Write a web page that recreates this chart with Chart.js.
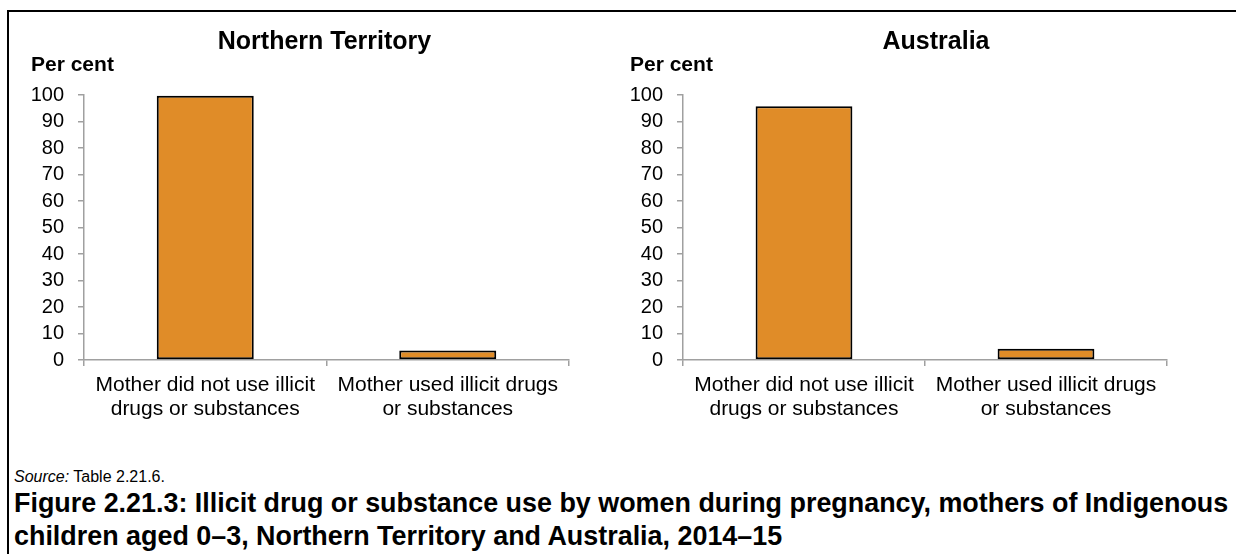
<!DOCTYPE html>
<html>
<head>
<meta charset="utf-8">
<script src="https://cdn.jsdelivr.net/npm/chart.js@4.4.1/dist/chart.umd.min.js"></script>
<style>
    html, body { margin: 0; padding: 0; background: #fff; overflow: hidden; width: 1236px; height: 554px; }
    body { position: relative; font-family: Arial, "Liberation Sans", sans-serif; }
    .frame { position: absolute; left: 7px; top: 10px; width: 1300px; height: 600px; border-top: 2px solid #000; border-left: 2px solid #000; }
    .box { position: absolute; }
    #ntBox { left: 31px; top: 30px; width: 587px; height: 391px; }
    #ausBox { left: 630px; top: 30px; width: 612px; height: 391px; }
    .source { position: absolute; left: 14px; top: 468px; font-size: 16px; line-height: 18px; color: #000; }
    .caption { position: absolute; left: 14px; top: 487px; font-size: 26.9px; line-height: 33px; font-weight: bold; color: #000; white-space: nowrap; }
</style>
</head>
<body>
<div class="frame"></div>
<div class="box" id="ntBox"><canvas id="ntChart"></canvas></div>
<div class="box" id="ausBox"><canvas id="ausChart"></canvas></div>
<div class="source"><i>Source:</i> Table 2.21.6.</div>
<div class="caption">Figure 2.21.3: Illicit drug or substance use by women during pregnancy, mothers of Indigenous<br>children aged 0–3, Northern Territory and Australia, 2014–15</div>

<script>
// Data
const categories = [
    ["Mother did not use illicit", "drugs or substances"],
    ["Mother used illicit drugs", "or substances"]
];
const ntValues = [99.7, 3.6];
const ausValues = [95.8, 4.2];
const yMin = 0;
const yMax = 100;
const yStep = 10;

const FONT = 'Arial, "Liberation Sans", sans-serif';
const AXIS_GREY = "#a0a0a0";
const BAR_ORANGE = "#e08c28";

function makeChart(canvasId, title, values, rightGap) {
    const ctx = document.getElementById(canvasId).getContext("2d");
    return new Chart(ctx, {
        type: "bar",
        data: {
            labels: categories,
            datasets: [{
                label: title,
                data: values,
                backgroundColor: BAR_ORANGE,
                borderColor: "#000",
                borderWidth: 2,
                borderSkipped: false,
                categoryPercentage: 1.0,
                barPercentage: 0.4
            }]
        },
        options: {
            responsive: true,
            maintainAspectRatio: false,
            animation: false,
            layout: { padding: 0, autoPadding: false },
            plugins: {
                legend: { display: false },
                tooltip: { enabled: false },
                title: {
                    display: true,
                    text: title,
                    color: "#000",
                    font: { family: FONT, size: 25, weight: "bold", lineHeight: 1.0 },
                    padding: { top: 0, bottom: 0 }
                },
                subtitle: {
                    display: true,
                    text: "Per cent",
                    align: "start",
                    color: "#000",
                    font: { family: FONT, size: 21, weight: "bold", lineHeight: 1.0 },
                    padding: { top: 0, bottom: 19 }
                }
            },
            scales: {
                x: {
                    offset: true,
                    grid: {
                        offset: true,
                        drawOnChartArea: false,
                        drawTicks: true,
                        tickLength: 6,
                        color: AXIS_GREY,
                        lineWidth: 1.5
                    },
                    border: { display: true, color: AXIS_GREY, width: 1.5 },
                    ticks: {
                        color: "#000",
                        padding: 7,
                        maxRotation: 0,
                        autoSkip: false,
                        font: { family: FONT, size: 21, lineHeight: 1.15 }
                    },
                    afterFit: function (scale) { scale.height = 61; }
                },
                y: {
                    min: yMin,
                    max: yMax,
                    grid: {
                        drawOnChartArea: false,
                        drawTicks: true,
                        tickLength: 6,
                        color: AXIS_GREY,
                        lineWidth: 1.5
                    },
                    border: { display: true, color: AXIS_GREY, width: 1.5 },
                    ticks: {
                        stepSize: yStep,
                        autoSkip: false,
                        color: "#000",
                        padding: 14,
                        font: { family: FONT, size: 20 }
                    },
                    afterFit: function (scale) { scale.width = 53; }
                },
                // empty space on the right so the title stays centred where it was
                gap: {
                    type: "linear",
                    position: "right",
                    display: true,
                    grid: { display: false },
                    border: { display: false },
                    ticks: { display: false },
                    afterFit: function (scale) { scale.width = rightGap; }
                }
            }
        }
    });
}

makeChart("ntChart", "Northern Territory", ntValues, 49);
makeChart("ausChart", "Australia", ausValues, 75);
</script>
</body>
</html>
